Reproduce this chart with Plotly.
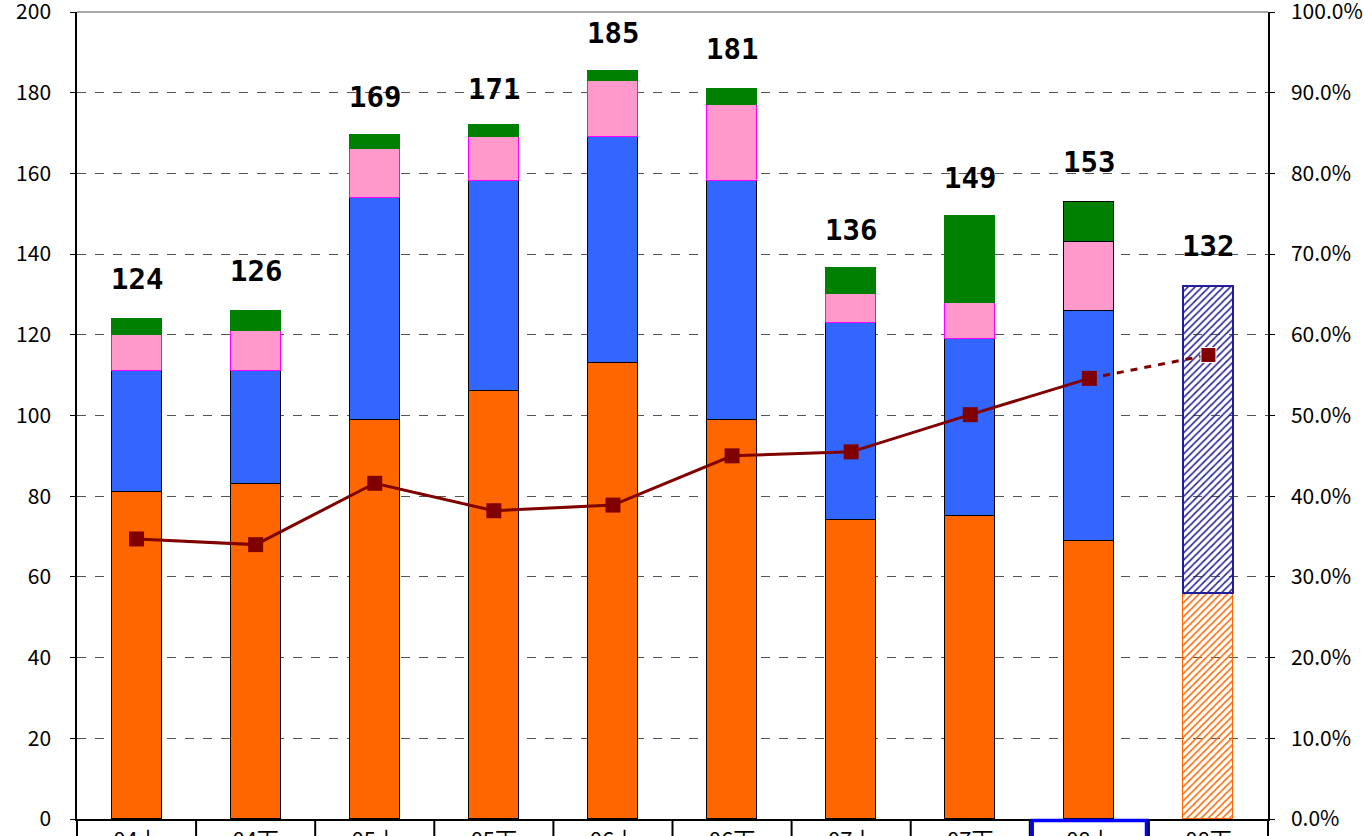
import plotly.graph_objects as go

categories = ["04上", "04下", "05上", "05下", "06上", "06下", "07上", "07下", "08上", "08下"]
orange_vals = [81, 83, 99, 106, 113, 99, 74, 75, 69, 56]
blue_vals = [30, 28, 55, 52, 56, 59, 49, 44, 57, 76]
pink_vals = [9, 10, 12, 11, 14, 19, 7, 9, 17, 0]
green_vals = [4, 5, 3.5, 3, 2.5, 4, 6.5, 21.5, 10, 0]
totals = [124, 126, 169, 171, 185, 181, 136, 149, 153, 132]
ratio = [0.347, 0.340, 0.416, 0.382, 0.389, 0.450, 0.455, 0.501, 0.546, 0.575]

n = len(categories)
xs = list(range(n))
forecast = n - 1  # last bar is a forecast (hatched)

FONT = "Noto Sans CJK JP"
ORANGE = "#FF6600"
BLUE = "#3366FF"
NAVY = "#1F1F99"
PINK = "#FF99CC"
MAGENTA = "#FF00FF"
GREEN = "#008000"
LINE = "#800000"

bw = 0.42
fig = go.Figure()

def shapes_for(i):
    return "/" if i == forecast else ""

# orange
fig.add_trace(go.Bar(
    x=xs, y=orange_vals, width=bw, yaxis="y",
    marker=dict(
        color=[ORANGE] * n,
        line=dict(color=["#000000"] * (n - 1) + [ORANGE], width=1.5),
        pattern=dict(shape=[shapes_for(i) for i in xs], fillmode="replace",
                     bgcolor="white", size=5, solidity=0.3),
    ),
    hoverinfo="skip", showlegend=False,
))
# blue
fig.add_trace(go.Bar(
    x=xs, y=blue_vals, width=bw, yaxis="y",
    marker=dict(
        color=[BLUE] * (n - 1) + [NAVY],
        line=dict(color=["#000000"] * (n - 1) + [NAVY], width=[1.5] * (n - 1) + [2.5]),
        pattern=dict(shape=[shapes_for(i) for i in xs], fillmode="replace",
                     bgcolor="white", size=5, solidity=0.3),
    ),
    hoverinfo="skip", showlegend=False,
))
# pink
fig.add_trace(go.Bar(
    x=xs[:-1], y=pink_vals[:-1], width=bw, yaxis="y",
    marker=dict(color=PINK,
                line=dict(color=[MAGENTA] * (n - 2) + ["#000000"], width=1.5)),
    hoverinfo="skip", showlegend=False,
))
# green
fig.add_trace(go.Bar(
    x=xs[:-1], y=green_vals[:-1], width=bw, yaxis="y",
    marker=dict(color=GREEN,
                line=dict(color=[GREEN] * (n - 2) + ["#000000"], width=1.5)),
    hoverinfo="skip", showlegend=False,
))

# dashed forecast segment
fig.add_trace(go.Scatter(
    x=xs[-2:], y=ratio[-2:], yaxis="y2", mode="lines+markers",
    line=dict(color=LINE, width=3, dash="7px,7px"),
    marker=dict(symbol="square", size=[0, 15], color=LINE, opacity=1),
    hoverinfo="skip", showlegend=False,
))
# solid line
fig.add_trace(go.Scatter(
    x=xs[:-1], y=ratio[:-1], yaxis="y2", mode="lines+markers",
    line=dict(color=LINE, width=3),
    marker=dict(symbol="square", size=15, color=LINE, opacity=1),
    hoverinfo="skip", showlegend=False,
))

annotations = []
for i, t in enumerate(totals):
    annotations.append(dict(
        x=i, y=t, xref="x", yref="y", text=f"<b>{t}</b>", showarrow=False,
        yanchor="middle", yshift=40,
        font=dict(family="DejaVu Sans Mono", size=29, color="#000"),
    ))

shapes = []
# category table dividers
for k in range(n + 1):
    shapes.append(dict(type="line", xref="paper", yref="paper",
                       x0=k / n, x1=k / n, y0=0, y1=-0.06,
                       line=dict(color="#000", width=2)))
# highlighted current period
shapes.append(dict(type="rect", xref="paper", yref="paper",
                   x0=(n - 2) / n + 0.002, x1=(n - 1) / n - 0.002, y0=-0.002, y1=-0.06,
                   line=dict(color="#0000FF", width=3.5)))
# top border
shapes.append(dict(type="line", xref="paper", yref="paper",
                   x0=0, x1=1, y0=1, y1=1, line=dict(color="#888", width=1.5)))

fig.update_layout(
    width=1364, height=836,
    margin=dict(l=77, r=96, t=12, b=17),
    paper_bgcolor="white", plot_bgcolor="white",
    barmode="stack", bargap=0,
    font=dict(family=FONT, color="#000"),
    xaxis=dict(
        range=[-0.5, n - 0.5], tickvals=xs, ticktext=categories,
        showgrid=False, zeroline=False, showline=True, linecolor="#000", linewidth=2,
        ticks="", tickfont=dict(size=22, family=FONT), automargin=False,
        ticklabelstandoff=1, ticklabeloverflow="allow",
    ),
    yaxis=dict(
        range=[0, 200], dtick=20, showgrid=True, gridcolor="#555", griddash="dash",
        gridwidth=1, zeroline=False, showline=True, linecolor="#000", linewidth=1.5,
        ticks="outside", ticklen=5, tickcolor="#000", tickfont=dict(size=21, family=FONT),
        automargin=False, ticklabelstandoff=15, ticklabeloverflow="allow",
    ),
    yaxis2=dict(
        range=[0, 1], dtick=0.1, tickformat=".1%", overlaying="y", side="right",
        showgrid=False, zeroline=False, showline=True, linecolor="#000", linewidth=1.5,
        ticks="outside", ticklen=5, tickcolor="#000", tickfont=dict(size=21, family=FONT),
        automargin=False, ticklabelstandoff=12, ticklabeloverflow="allow",
    ),
    annotations=annotations,
    shapes=shapes,
)

fig.write_html("out.html", config={"displayModeBar": False},
               post_script="document.body.style.margin='0';")
